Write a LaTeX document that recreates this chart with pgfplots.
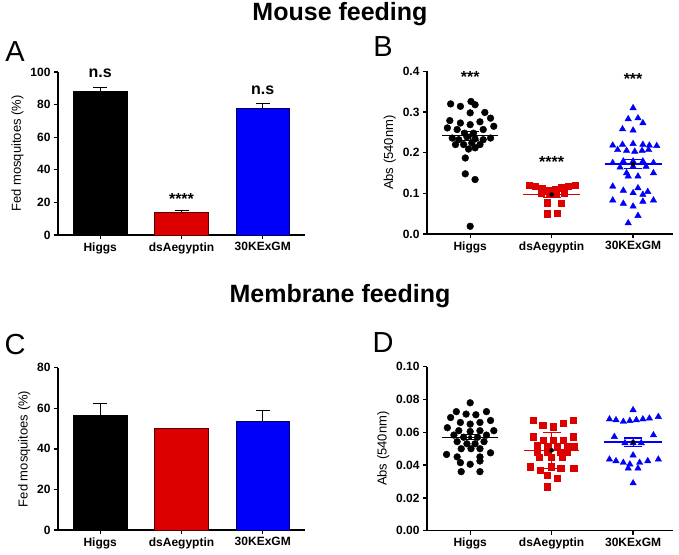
\documentclass[border=0pt]{standalone}
\usepackage{fontspec}
\setmainfont{Liberation Sans}
\usepackage{pgfplots}
\pgfplotsset{compat=1.18}
\definecolor{pred}{RGB}{221,0,0}
\definecolor{pblue}{RGB}{0,0,250}
\pgfplotsset{prism/.style={
  scale only axis,
  axis lines=left, axis line style={-, line width=1.3pt},
  tick align=outside, major tick length=4pt, tick style={line width=1.3pt,black},
  xtick={0,1,2}, xticklabels={Higgs,dsAegyptin,30KExGM},
  ticklabel style={font=\bfseries\fontsize{12}{14}\selectfont},
  /pgf/number format/assume math mode=true,
  ylabel style={font=\fontsize{13}{15}\selectfont},
  clip=false, anchor=south west,
},
barerr/.style={error bars/.cd, y dir=plus, y explicit,
  error bar style={line width=1.1pt, black},
  error mark options={rotate=90, mark size=7pt, line width=1.1pt, black}},
semerr/.style={forget plot, only marks, mark=none, error bars/.cd, y dir=both, y explicit,
  error bar style={line width=1.1pt, #1},
  error mark options={rotate=90, mark size=9pt, line width=1.1pt, #1}},
}
\begin{document}
\begin{tikzpicture}
\useasboundingbox (0,0) rectangle (679pt,554pt);
\node[font=\bfseries\fontsize{25}{28}\selectfont] at (340pt,540pt) {Mouse feeding};
\node[font=\bfseries\fontsize{25}{28}\selectfont] at (340pt,258pt) {Membrane feeding};
\node[font=\fontsize{29}{32}\selectfont] at (15pt,502pt) {A};
\node[font=\fontsize{29}{32}\selectfont] at (383pt,507pt) {B};
\node[font=\fontsize{29}{32}\selectfont] at (15pt,209pt) {C};
\node[font=\fontsize{29}{32}\selectfont] at (383pt,211pt) {D};

% Panel A
\begin{axis}[prism, at={(58pt,319pt)}, width=247pt, height=163pt,
  xmin=-0.52, xmax=2.52, ymin=0, ymax=100, ytick={0,20,40,60,80,100},
  ylabel={Fed mosquitoes (\%)}]
\addplot[ybar, bar width=0.66, bar shift=0pt, fill=black, draw=black, barerr] coordinates {(0,88) +- (0,2.5)};
\addplot[ybar, bar width=0.66, bar shift=0pt, fill=pred, draw=black!60!pred, barerr] coordinates {(1,14) +- (0,1)};
\addplot[ybar, bar width=0.66, bar shift=0pt, fill=pblue, draw=black!60!pblue, barerr] coordinates {(2,78) +- (0,2.5)};
\node[font=\bfseries\fontsize{16}{18}\selectfont] at (axis cs:0,99) {n.s};
\node[font=\bfseries\fontsize{16}{18}\selectfont] at (axis cs:2,89) {n.s};
\node[font=\bfseries\fontsize{16}{18}\selectfont] at (axis cs:1,22) {****};
\end{axis}

% Panel B
\begin{axis}[prism, at={(427pt,320pt)}, width=246pt, height=162.6pt,
  xmin=-0.53, xmax=2.49, ymin=0, ymax=0.4, ytick={0,0.1,0.2,0.3,0.4},
  yticklabel style={/pgf/number format/.cd, fixed, fixed zerofill, precision=1},
  ylabel={Abs (540nm)}]
\addplot[only marks, mark=*, mark size=3.4pt, black] coordinates {
(-0.24,0.320) (-0.12,0.314) (0.01,0.326) (0.06,0.318) (0.00,0.298) (0.18,0.299)
(0.25,0.285) (-0.25,0.279) (-0.12,0.273) (0.00,0.269) (0.12,0.276) (-0.28,0.261)
(0.29,0.265) (-0.16,0.257) (-0.07,0.248) (0.04,0.248) (0.16,0.257) (-0.22,0.236)
(-0.14,0.232) (-0.04,0.239) (0.06,0.234) (0.16,0.232) (0.25,0.236) (-0.18,0.220)
(-0.08,0.220) (0.02,0.224) (0.12,0.220) (-0.02,0.209) (0.06,0.212) (-0.06,0.187)
(-0.06,0.148) (0.06,0.134) (0.00,0.019)};
\addplot[black, line width=1.4pt] coordinates {(-0.34,0.242) (0.34,0.242)};
\addplot[semerr=black] coordinates {(0,0.242) +- (0,0.011)};
\addplot[only marks, mark=square*, mark size=3.1pt, pred] coordinates {
(0.72,0.121) (0.80,0.117) (0.88,0.113) (0.96,0.108) (1.04,0.110) (1.12,0.114)
(1.20,0.118) (1.29,0.121) (0.87,0.101) (0.97,0.097) (1.06,0.097) (1.15,0.101)
(0.95,0.077) (1.12,0.075) (0.95,0.050) (1.07,0.051)};
\addplot[pred, line width=1.4pt] coordinates {(0.65,0.097) (1.35,0.097)};
\addplot[semerr=pred] coordinates {(1,0.097) +- (0,0.007)};
\addplot[only marks, mark=triangle*, mark size=3.7pt, pblue] coordinates {
(2.00,0.310) (1.94,0.283) (2.06,0.285) (2.12,0.273) (1.87,0.258) (2.00,0.255)
(1.75,0.218) (1.87,0.220) (2.00,0.222) (2.12,0.220) (2.20,0.218) (2.29,0.217)
(1.81,0.207) (1.92,0.205) (2.02,0.203) (2.11,0.205) (2.19,0.207)
(1.75,0.175) (1.88,0.179) (2.00,0.179) (2.12,0.179) (2.25,0.175)
(1.84,0.164) (2.00,0.166) (2.16,0.166) (1.92,0.150) (2.25,0.150) (1.94,0.142) (2.06,0.142)
(1.75,0.117) (2.06,0.113) (1.88,0.107) (2.00,0.101) (2.12,0.097) (2.18,0.104)
(1.75,0.083) (1.88,0.075) (2.00,0.068) (2.12,0.080) (2.25,0.083) (2.06,0.045) (1.94,0.027)};
\addplot[pblue, line width=1.4pt] coordinates {(1.65,0.172) (2.35,0.172)};
\addplot[semerr=pblue] coordinates {(2,0.172) +- (0,0.011)};
\node[font=\bfseries\fontsize{16}{18}\selectfont] at (axis cs:0,0.385) {***};
\node[font=\bfseries\fontsize{16}{18}\selectfont] at (axis cs:1,0.177) {****};
\node[font=\bfseries\fontsize{16}{18}\selectfont] at (axis cs:2,0.381) {***};
\end{axis}

% Panel C
\begin{axis}[prism, at={(58pt,24pt)}, width=247pt, height=162.3pt,
  xmin=-0.52, xmax=2.52, ymin=0, ymax=80, ytick={0,20,40,60,80},
  ylabel={Fed mosquitoes (\%)}]
\addplot[ybar, bar width=0.66, bar shift=0pt, fill=black, draw=black, barerr] coordinates {(0,56.5) +- (0,6)};
\addplot[ybar, bar width=0.66, bar shift=0pt, fill=pred, draw=black!60!pred] coordinates {(1,50)};
\addplot[ybar, bar width=0.66, bar shift=0pt, fill=pblue, draw=black!60!pblue, barerr] coordinates {(2,53.5) +- (0,5.5)};
\end{axis}

% Panel D
\begin{axis}[prism, at={(427pt,23.3pt)}, width=246pt, height=164pt,
  xmin=-0.53, xmax=2.49, ymin=0, ymax=0.1, ytick={0,0.02,0.04,0.06,0.08,0.1},
  yticklabel style={/pgf/number format/.cd, fixed, fixed zerofill, precision=2},
  ylabel={Abs (540nm)}]
\addplot[only marks, mark=*, mark size=3.4pt, black] coordinates {
(0.00,0.0780) (-0.17,0.0726) (-0.05,0.0711) (0.07,0.0707) (0.20,0.0726)
(-0.24,0.0690) (-0.12,0.0660) (0.00,0.0650) (0.12,0.0660) (0.25,0.0672)
(-0.28,0.0628) (-0.14,0.0610) (0.00,0.0605) (0.12,0.0610) (0.29,0.0610)
(-0.20,0.0583) (-0.08,0.0570) (0.09,0.0570) (0.20,0.0583)
(-0.16,0.0543) (-0.04,0.0530) (0.06,0.0530) (0.17,0.0543)
(-0.11,0.0500) (0.01,0.0500) (0.12,0.0500)
(-0.29,0.0465) (-0.16,0.0450) (0.12,0.0450) (0.25,0.0475)
(-0.12,0.0415) (0.00,0.0405) (0.12,0.0425) (-0.11,0.0360) (0.12,0.0360)};
\addplot[black, line width=1.4pt] coordinates {(-0.34,0.057) (0.34,0.057)};
\addplot[semerr=black] coordinates {(0,0.057) +- (0,0.0015)};
\addplot[only marks, mark=square*, mark size=3.1pt, pred] coordinates {
(0.77,0.0675) (0.89,0.0644) (1.02,0.0634) (1.14,0.0654) (1.26,0.0675)
(0.77,0.0573) (0.90,0.0553) (1.02,0.0553) (1.14,0.0553) (1.26,0.0573)
(0.82,0.0522) (0.95,0.0512) (1.07,0.0512) (1.19,0.0516) (1.27,0.0512)
(0.82,0.0480) (0.95,0.0480) (1.11,0.0480) (1.19,0.0480)
(0.85,0.0450) (0.99,0.0450) (1.13,0.0450)
(0.74,0.0390) (0.86,0.0370) (0.99,0.0390) (1.11,0.0380) (1.27,0.0380)
(0.95,0.0340) (1.07,0.0320) (0.95,0.0268)};
\addplot[pred, line width=1.4pt] coordinates {(0.66,0.049) (1.34,0.049)};
\addplot[semerr=pred] coordinates {(1,0.049) +- (0,0.011)};
\addplot[only marks, mark=triangle*, mark size=3.7pt, pblue] coordinates {
(2.00,0.0736) (1.71,0.0680) (1.79,0.0675) (1.88,0.0665) (1.96,0.0670)
(2.04,0.0675) (2.12,0.0680) (2.20,0.0685) (2.31,0.0695)
(1.77,0.0573) (2.25,0.0583) (1.90,0.0535) (2.00,0.0535) (2.10,0.0535)
(2.00,0.0460) (1.71,0.0435) (1.79,0.0425) (1.88,0.0415) (1.96,0.0405)
(2.08,0.0415) (2.18,0.0425) (2.31,0.0435) (1.94,0.0380) (2.06,0.0380) (2.00,0.0290)};
\addplot[pblue, line width=1.4pt] coordinates {(1.64,0.054) (2.36,0.054)};
\addplot[semerr=pblue] coordinates {(2,0.054) +- (0,0.0025)};
\end{axis}
\end{tikzpicture}
\end{document}
